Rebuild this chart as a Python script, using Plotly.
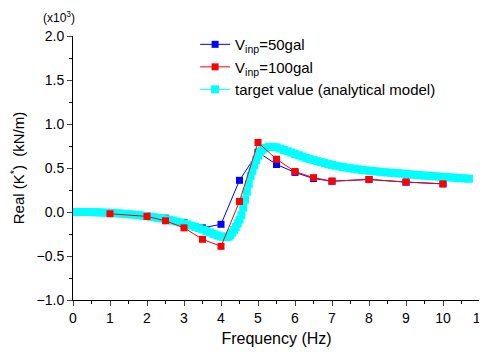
import plotly.graph_objects as go

# Measured data (x10^3 kN/m)
freq_50 = [1, 2, 2.5, 3, 3.5, 4, 4.5, 5, 5.5, 6, 6.5, 7, 8, 9, 10]
real_50 = [-0.01, -0.04, -0.07, -0.12, -0.18, -0.14, 0.36, 0.68, 0.54, 0.45, 0.38, 0.35, 0.37, 0.34, 0.32]

freq_100 = [1, 2, 2.5, 3, 3.5, 4, 4.5, 5, 5.5, 6, 6.5, 7, 8, 9, 10]
real_100 = [-0.02, -0.05, -0.10, -0.18, -0.31, -0.39, 0.12, 0.79, 0.60, 0.46, 0.39, 0.35, 0.37, 0.34, 0.32]

# Analytical model (target value)
freq_model = [0.0, 0.1, 0.2, 0.3, 0.4, 0.5, 0.6, 0.7, 0.8, 0.9,
              1.0, 1.1, 1.2, 1.3, 1.4, 1.5, 1.6, 1.7, 1.8, 1.9,
              2.0, 2.1, 2.2, 2.3, 2.4, 2.5, 2.6, 2.7, 2.8, 2.9,
              3.0, 3.1, 3.2, 3.3, 3.4, 3.5, 3.6, 3.7, 3.8, 3.9,
              4.0, 4.05, 4.1, 4.15, 4.2, 4.25, 4.3, 4.35, 4.4, 4.45,
              4.5, 4.55, 4.6, 4.65, 4.7, 4.75, 4.8, 4.85, 4.9, 4.95,
              5.0, 5.05, 5.1, 5.15, 5.2, 5.3, 5.4, 5.5, 5.6, 5.7,
              5.8, 5.9, 6.0, 6.1, 6.2, 6.3, 6.4, 6.5, 6.6, 6.7,
              6.8, 6.9, 7.0, 7.1, 7.2, 7.3, 7.4, 7.5, 7.6, 7.7,
              7.8, 7.9, 8.0, 8.1, 8.2, 8.3, 8.4, 8.5, 8.6, 8.7,
              8.8, 8.9, 9.0, 9.1, 9.2, 9.3, 9.4, 9.5, 9.6, 9.7,
              9.8, 9.9, 10.0, 10.1, 10.2, 10.3, 10.4, 10.5, 10.6, 10.7]
real_model = [0.0, 0.0, 0.0, 0.0, 0.0, -0.002, -0.003, -0.004, -0.006, -0.008,
              -0.01, -0.012, -0.015, -0.018, -0.021, -0.025, -0.029, -0.033, -0.038, -0.043,
              -0.048, -0.054, -0.060, -0.067, -0.074, -0.082, -0.090, -0.099, -0.109, -0.119,
              -0.130, -0.142, -0.155, -0.169, -0.184, -0.199, -0.215, -0.232, -0.249, -0.265,
              -0.276, -0.283, -0.286, -0.285, -0.280, -0.262, -0.235, -0.205, -0.170, -0.130,
              -0.088, -0.035, 0.05, 0.14, 0.23, 0.32, 0.41, 0.47, 0.53, 0.59,
              0.64, 0.68, 0.70, 0.72, 0.73, 0.74, 0.74, 0.735, 0.72, 0.705,
              0.69, 0.675, 0.66, 0.645, 0.63, 0.615, 0.60, 0.59, 0.578, 0.567,
              0.556, 0.545, 0.535, 0.526, 0.518, 0.51, 0.503, 0.497, 0.491, 0.485,
              0.479, 0.474, 0.469, 0.465, 0.461, 0.457, 0.453, 0.449, 0.446, 0.443,
              0.440, 0.436, 0.432, 0.428, 0.424, 0.420, 0.417, 0.414, 0.411, 0.408,
              0.405, 0.402, 0.399, 0.396, 0.393, 0.390, 0.387, 0.384, 0.381, 0.378]

x_ticks = list(range(0, 12))
y_ticks = [-1.0, -0.5, 0.0, 0.5, 1.0, 1.5, 2.0]

FONT = "Liberation Sans, Arial, sans-serif"

fig = go.Figure()
fig.add_trace(go.Scatter(
    x=freq_50, y=real_50, mode="lines+markers",
    name="V<sub>inp</sub>=50gal", legendrank=1,
    line=dict(color="#0000ff", width=1),
    marker=dict(symbol="square", size=7, color="#0000ff"),
))
fig.add_trace(go.Scatter(
    x=freq_model, y=real_model, mode="lines+markers",
    name="target value (analytical model)", legendrank=3,
    line=dict(color="#00ffff", width=1),
    marker=dict(symbol="square", size=8, color="#00ffff"),
))
fig.add_trace(go.Scatter(
    x=freq_100, y=real_100, mode="lines+markers",
    name="V<sub>inp</sub>=100gal", legendrank=2,
    line=dict(color="#ff0000", width=1),
    marker=dict(symbol="square", size=7, color="#ff0000"),
))

fig.update_layout(
    width=479, height=344,
    margin=dict(l=65, r=7, t=28, b=52),
    paper_bgcolor="white", plot_bgcolor="white",
    font=dict(family=FONT, size=14, color="black"),
    showlegend=True,
    legend=dict(x=0.30, y=1.03, xanchor="left", yanchor="top",
                bgcolor="rgba(0,0,0,0)", font=dict(size=15),
                tracegroupgap=0, traceorder="normal"),
    xaxis=dict(range=[0, 11], tickvals=x_ticks, ticks="outside", ticklen=5,
               showline=True, linecolor="black", linewidth=1,
               showgrid=False, zeroline=False, automargin=False,
               ticklabeloverflow="allow",
               tickfont=dict(size=14),
               minor=dict(dtick=0.5, ticks="outside", ticklen=3, tickcolor="black", showgrid=False),
               title=dict(text="Frequency (Hz)", font=dict(size=16), standoff=8)),
    yaxis=dict(range=[-1, 2], tickvals=y_ticks, tickformat=".1f", ticks="outside", ticklen=5,
               showline=True, linecolor="black", linewidth=1,
               showgrid=False, zeroline=False, automargin=False,
               tickfont=dict(size=14),
               minor=dict(dtick=0.25, ticks="outside", ticklen=3, tickcolor="black", showgrid=False),
               title=dict(text="Real (K<sup>*</sup>)  (kN/m)", font=dict(size=15), standoff=12)),
    annotations=[dict(text="(x10<sup>3</sup>)", xref="paper", yref="paper",
                      x=-0.035, y=1.072, showarrow=False, font=dict(size=12),
                      xanchor="center", yanchor="middle")],
)

fig.write_html("out.html")
